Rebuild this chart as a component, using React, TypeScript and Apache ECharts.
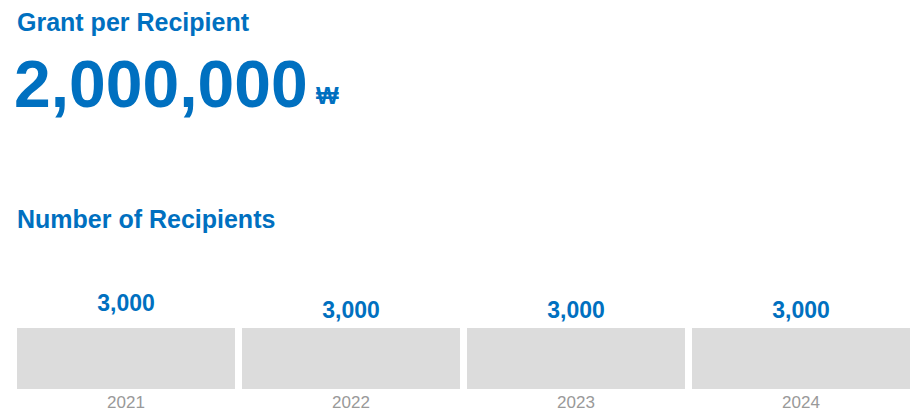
import React, { useEffect, useRef } from "react";
import * as echarts from "echarts";

const years = ["2021", "2022", "2023", "2024"];
const recipients = [3000, 3000, 3000, 3000];
const labelOffsets = [13.5, 7, 7, 7];
const grantPerRecipient = 2000000;
const currency = "₩";
const titleGrant = "Grant per Recipient";
const titleRecipients = "Number of Recipients";

const BLUE = "#0070C0";
const FONT = "'Liberation Sans', Arial, sans-serif";

export default function App() {
  const ref = useRef<HTMLDivElement>(null);
  useEffect(() => {
    if (!ref.current) return;
    const chart = echarts.init(ref.current, undefined, { renderer: "svg" });
    chart.setOption({
      animation: false,
      backgroundColor: "#ffffff",
      textStyle: { fontFamily: FONT },
      graphic: [
        {
          type: "text",
          left: 17,
          top: 9,
          style: { text: titleGrant, fill: BLUE, font: `bold 25px ${FONT}` },
        },
        {
          type: "text",
          left: 14,
          top: 51,
          style: {
            text: grantPerRecipient.toLocaleString("en-US"),
            fill: BLUE,
            font: `bold 66px ${FONT}`,
          },
        },
        {
          type: "text",
          left: 316,
          top: 83,
          style: { text: currency, fill: BLUE, font: `bold 24px ${FONT}` },
        },
        {
          type: "text",
          left: 17,
          top: 206,
          style: { text: titleRecipients, fill: BLUE, font: `bold 25px ${FONT}` },
        },
      ],
      grid: { left: 13.5, right: 5.5, top: 328, bottom: 20, containLabel: false },
      xAxis: {
        type: "category",
        data: years,
        axisLine: { show: false },
        axisTick: { show: false },
        axisLabel: { color: "#999999", fontSize: 17, margin: 5, fontFamily: FONT },
      },
      yAxis: { type: "value", min: 0, max: 3000, show: false, splitLine: { show: false } },
      series: [
        {
          type: "bar",
          barWidth: 218,
          itemStyle: { color: "#DCDCDC" },
          data: recipients.map((v, i) => ({
            value: v,
            label: { distance: labelOffsets[i] },
          })),
          label: {
            show: true,
            position: "top",
            color: BLUE,
            fontSize: 23,
            fontWeight: "bold",
            fontFamily: FONT,
            formatter: (p: any) => Number(p.value).toLocaleString("en-US"),
          },
        },
      ],
    });
    return () => chart.dispose();
  }, []);
  return (
    <div
      ref={ref}
      style={{ position: "fixed", left: 0, top: 0, width: 919, height: 411 }}
    />
  );
}
